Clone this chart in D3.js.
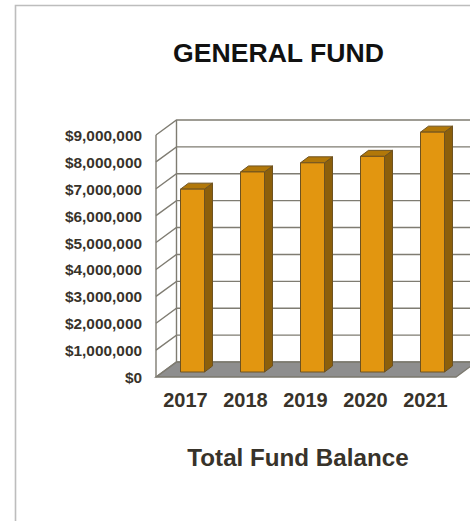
<!DOCTYPE html>
<html><head><meta charset="utf-8">
<script src="https://cdn.jsdelivr.net/npm/d3@7"></script>
<style>html,body{margin:0;padding:0;background:#fff}svg{display:block}text{font-family:"Liberation Sans",Arial,sans-serif;font-weight:bold}</style>
</head><body><script>
const years = ["2017","2018","2019","2020","2021"];
const balances = [6800000,7440000,7780000,8020000,8920000];
const tickValues = [0,1000000,2000000,3000000,4000000,5000000,6000000,7000000,8000000,9000000];
const chartTitle = "GENERAL FUND";
const axisTitle = "Total Fund Balance";

const W=470,H=521, dx=20.5, dy=-15, bdx=8, bdy=-6;
const svg=d3.select("body").append("svg").attr("width",W).attr("height",H);
const x=d3.scaleBand().domain(years).range([156,456]).paddingInner(0.6).paddingOuter(0.3);
const y=d3.scaleLinear().domain([0,9000000]).range([377,135]);
const x0=x.range()[0], x1=x.range()[1], y0=y(0);
const fmt=d=>"$"+d3.format(",")(d);

// frame
svg.append("path").attr("d",`M15.5 521V5.5H470`).attr("fill","none").attr("stroke","#bdbdbd").attr("stroke-width",1.6);

// floor
svg.append("path").attr("d",`M${x0} ${y0}L${x0+dx} ${y0+dy}H${x1+dx}L${x1} ${y0}Z`)
  .attr("fill","#8e8e8e").attr("stroke","#7b786e").attr("stroke-width",1.3);
// grid
const grid=svg.append("g").attr("fill","none").attr("stroke","#7f7c72").attr("stroke-width",1.4);
grid.selectAll("path").data(tickValues).join("path")
  .attr("d",d=>`M${x0} ${y(d)}L${x0+dx} ${y(d)+dy}H${x1+dx}`);
grid.append("path").attr("d",`M${x0} ${y(0)}V${y(9000000)}M${x0+dx} ${y(0)+dy}V${y(9000000)+dy}`);

// bars
const barShift=6.5, barLift=-5;
const bars=svg.append("g").selectAll("g").data(years.map((k,i)=>({k,v:balances[i]}))).join("g")
  .attr("stroke","#6e5220").attr("stroke-width",1).attr("stroke-linejoin","round");
const L=d=>x(d.k)+barShift, R=d=>L(d)+x.bandwidth(), B=()=>y0+barLift, T=d=>y(d.v)+barLift;
bars.append("path").attr("fill","#8c5f0b")
  .attr("d",d=>`M${R(d)} ${B()}L${R(d)+bdx} ${B()+bdy}V${T(d)+bdy}L${R(d)} ${T(d)}Z`);
bars.append("path").attr("fill","#b27809")
  .attr("d",d=>`M${L(d)} ${T(d)}L${L(d)+bdx} ${T(d)+bdy}H${R(d)+bdx}L${R(d)} ${T(d)}Z`);
bars.append("rect").attr("fill","#e29610")
  .attr("x",L).attr("y",T).attr("width",x.bandwidth()).attr("height",d=>B()-T(d));

// labels
const ink="#38332a";
svg.append("g").selectAll("text").data(tickValues).join("text")
  .attr("x",142).attr("y",d=>y(d)+6).attr("text-anchor","end").attr("font-size",15.4).attr("fill",ink).text(fmt);
svg.append("g").selectAll("text").data(years).join("text")
  .attr("x",d=>x(d)+x.bandwidth()/2-0.5).attr("y",407).attr("text-anchor","middle").attr("font-size",20).attr("fill",ink).text(d=>d);
svg.append("text").attr("x",278.5).attr("y",62).attr("text-anchor","middle").attr("font-size",26.6).attr("fill","#111").text(chartTitle);
svg.append("text").attr("x",298).attr("y",466).attr("text-anchor","middle").attr("font-size",24.2).attr("fill",ink).text(axisTitle);
</script></body></html>
